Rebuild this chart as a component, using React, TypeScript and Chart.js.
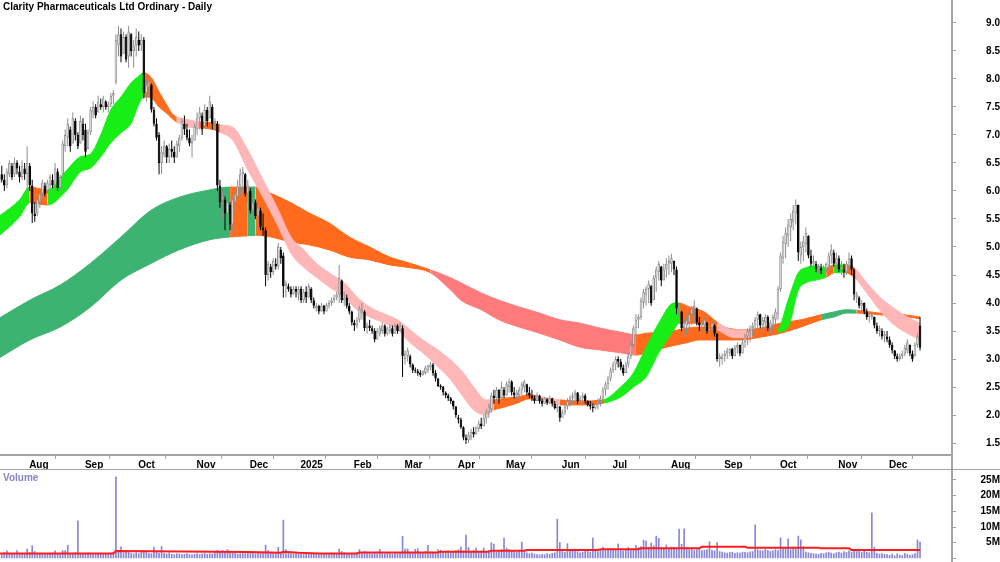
import React, { useEffect, useRef } from "react";
import { Chart, registerables } from "chart.js";

Chart.register(...registerables);

type Bar = [number, number, number, number]; // open, high, low, close

// ---- Daily OHLC by month ----
const jul24: Bar[] = [[6.15,6.35,6.05,6.3],[6.3,6.45,6.15,6.2],[6.2,6.3,6.0,6.1],[6.1,6.4,6.05,6.35],[6.3,6.55,6.25,6.5],[6.45,6.5,6.2,6.25],[6.3,6.6,6.25,6.5],[6.5,6.55,6.3,6.4],[6.35,6.45,6.15,6.25],[6.25,6.55,6.2,6.45],[6.4,6.5,6.2,6.3]];
const aug24: Bar[] = [[6.3,6.8,6.0,6.5],[6.45,6.5,6.0,6.1],[6.1,6.2,5.43,5.6],[5.6,5.8,5.45,5.55],[5.6,5.9,5.55,5.85],[5.8,6.0,5.7,5.95],[5.95,6.2,5.9,6.15],[6.1,6.15,5.9,5.95],[6.0,6.2,5.95,6.15],[6.1,6.3,6.0,6.25],[6.2,6.3,6.05,6.1],[6.1,6.5,6.05,6.4],[6.35,6.4,6.0,6.05],[6.05,6.3,6.0,6.25],[6.3,6.9,6.3,6.85],[6.8,7.1,6.7,7.0],[6.95,7.3,6.8,7.2],[7.1,7.15,6.7,6.8],[6.85,7.4,6.85,7.3],[7.25,7.3,6.9,7.0],[7.0,7.05,6.75,6.8],[6.85,7.35,6.85,7.25]];
const sep24: Bar[] = [[7.2,7.3,6.9,7.0],[7.1,7.2,6.6,6.7],[6.75,7.1,6.75,7.05],[7.05,7.5,7.0,7.45],[7.4,7.6,7.3,7.5],[7.5,7.55,7.3,7.35],[7.4,7.7,7.4,7.6],[7.55,7.65,7.45,7.5],[7.5,7.7,7.4,7.65],[7.6,7.62,7.45,7.5],[7.5,7.6,7.4,7.55],[7.55,7.75,7.5,7.7],[7.7,7.8,7.55,7.75],[7.95,8.8,7.9,8.7],[8.6,8.95,8.4,8.8],[8.8,8.9,8.3,8.4],[8.45,8.85,8.45,8.75],[8.75,8.8,8.3,8.35],[8.4,8.95,8.2,8.85],[8.8,8.82,8.4,8.5],[8.5,8.7,8.2,8.6]];
const oct24: Bar[] = [[8.6,8.9,8.4,8.75],[8.7,8.85,8.5,8.6],[8.6,8.8,8.5,8.7],[8.7,8.75,7.65,7.75],[7.75,8.0,7.6,7.9],[7.85,8.0,7.7,7.95],[7.9,7.92,7.4,7.45],[7.45,7.5,7.15,7.2],[7.2,7.3,6.9,6.95],[7.0,7.05,6.3,6.5],[6.5,6.8,6.3,6.7],[6.65,6.9,6.6,6.8],[6.8,6.82,6.5,6.6],[6.6,6.85,6.5,6.75],[6.75,6.9,6.6,6.7],[6.7,6.8,6.5,6.6],[6.6,6.9,6.6,6.85],[6.8,7.0,6.7,6.95],[6.95,7.3,6.9,7.25],[7.2,7.35,7.0,7.1],[7.1,7.2,6.9,6.95],[6.95,7.1,6.8,6.85],[6.85,7.0,6.6,6.9]];
const nov24: Bar[] = [[6.9,7.2,6.9,7.15],[7.1,7.4,7.0,7.3],[7.3,7.5,7.1,7.4],[7.35,7.4,7.0,7.1],[7.15,7.55,7.15,7.45],[7.45,7.5,7.15,7.25],[7.3,7.7,7.3,7.6],[7.5,7.55,7.1,7.2],[7.2,7.3,7.1,7.25],[7.2,7.25,6.0,6.1],[6.1,6.2,5.7,5.8],[5.85,6.0,5.5,5.9],[5.85,5.9,5.3,5.6],[5.6,5.9,5.5,5.8],[5.75,5.8,5.3,5.4],[5.4,5.9,5.25,5.85],[5.8,6.0,5.6,5.95],[5.9,6.2,5.8,6.1],[6.1,6.4,5.9,6.3],[6.3,6.43,6.0,6.35],[6.3,6.32,5.9,5.95]];
const dec24: Bar[] = [[5.95,6.2,5.8,6.1],[6.0,6.05,5.6,5.65],[5.65,5.9,5.55,5.8],[5.8,5.85,5.5,5.55],[5.55,5.8,5.4,5.7],[5.65,5.7,5.3,5.35],[5.35,5.6,5.2,5.3],[5.3,5.35,4.3,4.5],[4.5,4.75,4.4,4.7],[4.65,4.7,4.45,4.55],[4.55,4.8,4.5,4.75],[4.7,4.8,4.6,4.65],[4.65,5.07,4.6,5.0],[4.95,5.0,4.7,4.8],[4.85,4.9,4.1,4.3],[4.3,4.4,4.1,4.35],[4.3,4.35,4.2,4.25],[4.25,4.3,4.1,4.15],[4.15,4.3,4.15,4.25],[4.25,4.3,4.1,4.2]];
const jan25: Bar[] = [[4.15,4.3,4.05,4.25],[4.25,4.3,4.0,4.05],[4.05,4.25,4.0,4.2],[4.2,4.3,4.0,4.1],[4.1,4.35,4.1,4.3],[4.25,4.28,4.0,4.05],[4.05,4.1,3.9,3.95],[3.9,4.0,3.85,3.95],[3.95,3.97,3.8,3.85],[3.85,4.0,3.85,3.95],[3.95,3.97,3.8,3.85],[3.85,4.0,3.85,3.97],[3.95,4.05,3.9,4.0],[4.0,4.1,3.95,4.05],[4.05,4.15,4.0,4.1],[4.1,4.2,4.05,4.15],[4.15,4.68,4.0,4.45],[4.4,4.42,4.0,4.05],[4.05,4.2,3.95,4.1],[4.1,4.15,3.9,3.95],[3.95,4.0,3.8,3.85]];
const feb25: Bar[] = [[3.85,3.86,3.6,3.65],[3.65,3.7,3.5,3.6],[3.6,3.75,3.55,3.7],[3.7,3.95,3.65,3.9],[3.85,4.0,3.7,3.9],[3.85,3.87,3.5,3.55],[3.55,3.65,3.45,3.6],[3.6,3.7,3.5,3.55],[3.55,3.6,3.45,3.5],[3.5,3.55,3.3,3.35],[3.35,3.55,3.35,3.5],[3.45,3.6,3.4,3.55],[3.5,3.65,3.45,3.6],[3.6,3.62,3.4,3.45],[3.45,3.58,3.42,3.55],[3.5,3.62,3.45,3.58],[3.55,3.6,3.4,3.45],[3.45,3.63,3.45,3.6],[3.6,3.62,3.45,3.5],[3.5,3.65,3.5,3.6]];
const mar25: Bar[] = [[3.55,3.6,2.68,3.05],[3.0,3.15,2.9,3.1],[3.05,3.2,2.95,3.15],[3.05,3.08,2.85,2.9],[2.9,2.92,2.75,2.8],[2.8,2.85,2.75,2.78],[2.78,2.82,2.7,2.75],[2.75,2.8,2.68,2.72],[2.72,2.8,2.7,2.78],[2.75,2.88,2.72,2.85],[2.8,2.9,2.75,2.88],[2.85,2.95,2.8,2.9],[2.9,2.93,2.7,2.75],[2.75,2.8,2.6,2.65],[2.65,2.66,2.5,2.52],[2.52,2.55,2.45,2.5],[2.5,2.52,2.35,2.4],[2.4,2.42,2.3,2.35],[2.35,2.38,2.25,2.3],[2.3,2.32,2.2,2.25],[2.25,2.26,2.1,2.15]];
const apr25: Bar[] = [[2.15,2.16,1.95,2.0],[1.95,2.0,1.85,1.92],[1.92,1.95,1.75,1.78],[1.78,1.8,1.55,1.6],[1.6,1.65,1.48,1.55],[1.55,1.7,1.5,1.65],[1.6,1.75,1.55,1.7],[1.7,1.78,1.6,1.65],[1.65,1.8,1.65,1.78],[1.75,1.9,1.7,1.85],[1.85,1.95,1.75,1.8],[1.8,2.0,1.8,1.95],[1.95,2.1,1.85,2.05],[2.05,2.2,1.95,2.15],[2.1,2.4,2.05,2.35],[2.35,2.45,2.2,2.3],[2.3,2.5,2.25,2.45],[2.45,2.46,2.2,2.3],[2.3,2.6,2.3,2.5]];
const may25: Bar[] = [[2.45,2.5,2.3,2.35],[2.35,2.6,2.35,2.55],[2.5,2.65,2.4,2.6],[2.6,2.62,2.35,2.4],[2.4,2.5,2.3,2.35],[2.35,2.45,2.25,2.4],[2.35,2.5,2.3,2.45],[2.45,2.6,2.35,2.55],[2.5,2.63,2.4,2.6],[2.55,2.56,2.35,2.4],[2.4,2.5,2.3,2.35],[2.35,2.45,2.25,2.3],[2.3,2.35,2.2,2.25],[2.25,2.4,2.25,2.35],[2.35,2.36,2.2,2.25],[2.25,2.3,2.15,2.2],[2.2,2.32,2.2,2.3],[2.28,2.3,2.18,2.22],[2.22,2.35,2.2,2.3],[2.3,2.31,2.15,2.2],[2.2,2.25,2.1,2.12],[2.12,2.2,2.05,2.15]];
const jun25: Bar[] = [[2.15,2.16,1.88,1.95],[1.95,2.1,1.95,2.05],[2.05,2.2,2.0,2.15],[2.15,2.3,2.1,2.25],[2.25,2.35,2.15,2.3],[2.3,2.4,2.2,2.35],[2.35,2.45,2.25,2.4],[2.4,2.41,2.2,2.25],[2.25,2.35,2.2,2.3],[2.3,2.4,2.25,2.35],[2.35,2.38,2.2,2.25],[2.25,2.26,2.15,2.18],[2.18,2.25,2.1,2.15],[2.15,2.2,2.05,2.12],[2.12,2.25,2.1,2.2],[2.2,2.3,2.1,2.25],[2.25,2.35,2.15,2.3],[2.3,2.5,2.25,2.45],[2.45,2.6,2.35,2.55],[2.55,2.7,2.45,2.65]];
const jul25: Bar[] = [[2.65,2.85,2.6,2.8],[2.8,2.95,2.75,2.9],[2.9,3.05,2.8,3.0],[3.0,3.05,2.85,2.95],[2.95,3.0,2.8,2.85],[2.85,2.9,2.7,2.75],[2.75,2.95,2.75,2.9],[2.9,3.1,2.85,3.05],[3.05,3.3,3.0,3.25],[3.25,3.6,3.2,3.55],[3.55,3.8,3.4,3.7],[3.7,3.8,3.55,3.75],[3.75,4.1,3.7,4.05],[4.0,4.25,3.9,4.2],[4.15,4.3,3.95,4.25],[4.25,4.4,4.0,4.35],[4.3,4.32,3.95,4.0],[4.05,4.5,4.05,4.45],[4.45,4.65,4.2,4.6],[4.55,4.75,4.4,4.7],[4.65,4.66,4.3,4.4],[4.4,4.7,4.4,4.6],[4.6,4.8,4.45,4.7]];
const aug25: Bar[] = [[4.7,4.85,4.5,4.75],[4.7,4.88,4.55,4.8],[4.75,4.76,4.5,4.6],[4.6,4.65,3.8,3.9],[3.9,4.0,3.75,3.95],[3.85,3.86,3.5,3.55],[3.55,3.7,3.4,3.6],[3.6,3.75,3.45,3.7],[3.65,3.85,3.5,3.8],[3.8,3.95,3.6,3.9],[3.9,4.05,3.65,3.95],[3.9,3.92,3.6,3.65],[3.65,3.75,3.5,3.6],[3.6,3.7,3.45,3.65],[3.6,3.75,3.5,3.7],[3.65,3.66,3.45,3.5],[3.5,3.6,3.4,3.55],[3.55,3.7,3.45,3.65],[3.6,3.62,3.4,3.45],[3.45,3.46,2.95,3.0],[3.0,3.1,2.86,3.05]];
const sep25: Bar[] = [[3.0,3.1,2.9,3.05],[3.05,3.15,2.95,3.1],[3.1,3.2,3.0,3.15],[3.1,3.2,3.05,3.18],[3.18,3.2,3.0,3.05],[3.05,3.25,3.05,3.2],[3.2,3.3,3.1,3.25],[3.25,3.26,3.05,3.1],[3.1,3.35,3.1,3.3],[3.3,3.45,3.2,3.4],[3.4,3.55,3.25,3.5],[3.5,3.6,3.3,3.55],[3.55,3.65,3.4,3.6],[3.6,3.75,3.45,3.7],[3.7,3.85,3.55,3.8],[3.8,3.81,3.55,3.6],[3.6,3.75,3.5,3.7],[3.65,3.8,3.55,3.75],[3.75,3.78,3.5,3.55],[3.55,3.7,3.45,3.65],[3.6,3.8,3.5,3.75],[3.7,3.9,3.55,3.85]];
const oct25: Bar[] = [[3.8,4.3,3.7,4.25],[4.25,4.9,4.2,4.85],[4.8,5.2,4.7,5.1],[5.05,5.35,4.8,5.25],[5.2,5.5,5.0,5.4],[5.35,5.6,5.1,5.5],[5.45,5.75,5.3,5.65],[5.6,5.85,5.4,5.75],[5.75,5.76,4.75,4.9],[4.85,5.1,4.7,5.0],[5.0,5.2,4.75,5.1],[5.05,5.35,4.9,5.25],[5.2,5.21,4.8,4.85],[4.85,4.95,4.65,4.7],[4.7,4.85,4.6,4.75],[4.7,4.75,4.55,4.6],[4.6,4.7,4.5,4.65],[4.62,4.7,4.52,4.58],[4.58,4.68,4.5,4.62],[4.6,4.72,4.55,4.7],[4.65,4.9,4.6,4.85],[4.85,5.05,4.7,4.95],[4.9,4.95,4.65,4.7]];
const nov25: Bar[] = [[4.7,4.9,4.6,4.8],[4.8,4.85,4.55,4.6],[4.6,4.75,4.5,4.65],[4.6,4.7,4.45,4.55],[4.55,4.75,4.5,4.7],[4.65,4.9,4.55,4.8],[4.8,4.85,4.5,4.6],[4.6,4.62,4.05,4.15],[4.1,4.2,4.0,4.15],[4.1,4.12,3.9,3.95],[3.95,4.05,3.85,4.0],[4.0,4.01,3.8,3.85],[3.85,3.9,3.7,3.75],[3.75,3.85,3.65,3.8],[3.75,3.85,3.7,3.78],[3.75,3.76,3.55,3.6],[3.6,3.65,3.45,3.5],[3.5,3.6,3.4,3.55],[3.5,3.55,3.35,3.4],[3.4,3.5,3.3,3.45]];
const dec25: Bar[] = [[3.4,3.5,3.3,3.35],[3.35,3.4,3.2,3.25],[3.25,3.3,3.1,3.15],[3.15,3.16,3.0,3.05],[3.05,3.1,2.95,3.0],[3.0,3.1,2.97,3.05],[3.05,3.15,3.0,3.1],[3.1,3.25,3.05,3.2],[3.15,3.35,3.1,3.3],[3.25,3.26,3.05,3.1],[3.1,3.15,2.95,3.0],[3.05,3.3,3.05,3.25],[3.25,3.45,3.2,3.4],[3.6,3.75,3.15,3.2]];

const monthBars: Bar[][] = [jul24, aug24, sep24, oct24, nov24, dec24, jan25, feb25, mar25, apr25, may25, jun25, jul25, aug25, sep25, oct25, nov25, dec25];
const monthLabels = ["", "Aug", "Sep", "Oct", "Nov", "Dec", "2025", "Feb", "Mar", "Apr", "May", "Jun", "Jul", "Aug", "Sep", "Oct", "Nov", "Dec"];

// ---- Daily volume (millions) by month ----
const vJul24 = [1.5,1.2,1.8,2.4,1.3,1.6,1.4,2.5,1.5,1.2,1.6];
const vAug24 = [3.0,1.8,4.0,2.2,1.5,1.3,1.6,1.2,1.4,1.5,1.7,2.4,1.5,1.3,2.5,2.5,4.2,1.6,1.4,1.8,12.0,1.6];
const vSep24 = [1.5,1.3,1.8,1.4,1.2,1.6,1.3,1.5,1.2,1.4,1.3,1.7,1.9,26.0,2.2,3.7,1.8,2.5,1.9,1.6,1.4];
const vOct24 = [1.8,1.5,2.0,2.6,1.9,1.6,1.5,3.6,2.0,1.7,3.8,1.6,1.4,1.8,1.3,1.2,1.5,1.4,1.2,1.3,1.5,1.2,1.1];
const vNov24 = [1.3,1.5,1.2,1.4,1.6,1.3,1.5,1.4,1.8,2.6,2.2,2.5,2.0,2.8,1.9,1.7,1.6,1.4,1.5,1.8,1.5];
const vDec24 = [1.6,2.0,1.8,1.5,1.7,1.6,1.9,4.2,2.5,1.8,1.6,1.5,3.5,2.0,12.2,2.8,1.8,1.5,1.4,1.6];
const vJan25 = [1.3,1.5,1.2,1.4,1.6,1.3,1.5,1.4,1.2,1.6,1.3,1.5,1.4,1.7,1.5,1.6,3.0,2.2,1.8,1.5,1.4];
const vFeb25 = [1.6,1.5,1.8,2.8,1.7,2.2,1.5,1.6,1.4,1.8,1.5,2.9,1.6,1.4,1.7,1.5,1.3,1.6,1.5,1.7];
const vMar25 = [7.0,3.0,3.0,2.0,1.8,2.9,3.1,1.9,1.8,2.2,4.2,2.0,1.7,1.8,2.8,2.6,1.9,2.0,2.4,2.2,2.1];
const vApr25 = [2.5,2.8,3.7,2.4,7.4,3.5,2.2,2.6,3.3,2.0,2.4,3.3,2.2,2.6,5.0,4.6,2.0,2.4,2.8];
const vMay25 = [6.5,3.3,2.8,2.2,2.5,2.0,2.4,5.2,2.6,1.8,1.5,1.7,1.4,1.2,1.1,1.3,1.2,1.5,1.3,1.6,1.8,12.5];
const vJun25 = [5.0,2.2,2.0,4.7,2.5,2.8,3.0,2.2,1.8,2.0,2.4,2.2,2.0,6.5,2.5,2.2,2.8,3.5,2.6,3.0];
const vJul25 = [3.2,2.8,2.6,4.6,3.0,2.4,2.8,3.5,2.6,3.0,4.2,3.5,3.8,5.8,5.5,3.6,4.9,4.0,7.1,6.4,3.5,3.0,4.3];
const vAug25 = [3.0,3.6,3.5,3.0,9.3,4.5,9.4,3.6,2.8,3.2,2.6,2.8,3.0,2.5,2.6,2.8,5.3,2.6,2.4,5.0,2.2];
const vSep25 = [2.0,1.8,1.7,1.9,2.0,1.6,1.8,1.7,2.0,1.9,1.8,2.1,2.2,10.6,2.8,2.5,2.4,2.9,2.6,2.2,2.4,2.8];
const vOct25 = [2.5,6.5,3.0,3.4,6.2,2.8,3.6,3.0,7.1,5.9,3.7,2.0,1.8,1.6,1.5,1.4,1.3,1.6,1.5,1.8,2.0,1.7,1.5];
const vNov25 = [1.8,2.0,1.7,2.2,1.9,2.4,2.0,2.8,2.2,2.5,1.9,2.3,2.0,1.8,14.5,3.6,1.6,1.4,1.5,1.3];
const vDec25 = [1.2,1.0,1.4,0.8,1.5,1.1,0.9,1.6,1.3,1.0,1.2,1.5,5.9,5.2];
const monthVols = [vJul24, vAug24, vSep24, vOct24, vNov24, vDec24, vJan25, vFeb25, vMar25, vApr25, vMay25, vJun25, vJul25, vAug25, vSep25, vOct25, vNov25, vDec25];

// ---- Volume moving average (millions), at bar index ----
const maIdx = [0,45,46,60,72,98,111,112,118,126,141,142,173,174,193,194,207,208,236,237,252,253,276,277,294,295,323,324,335,336,363];
const maVal = [1.6,1.6,2.35,2.3,2.2,2.0,1.8,2.1,1.8,1.6,1.6,1.9,1.9,2.1,2.1,2.45,2.45,2.7,2.7,2.9,2.9,3.2,3.2,3.7,3.7,3.4,3.4,3.2,3.2,2.7,2.7];

// ---- Short-term ribbon (fast averages): upper / lower edge at bar index ----
const shortIdx = [0,8,12,19,26,32,36,40,44,48,52,55,57,60,63,66,68,70,75,79,85,87,92,98,104,110,115,120,125,130,136,141,146,151,157,162,167,173,178,183,187,192,195,199,204,209,212,221,229,238,245,250,255,260,266,268,272,278,283,290,297,304,307,311,315,318,322,326,329,333,337,342,347,352,358,363];
const shortHi = [5.55,5.84,6.07,6.02,6.34,6.61,6.66,7.0,7.45,7.68,7.93,8.05,8.11,8.02,7.77,7.54,7.39,7.32,7.27,7.23,7.21,7.18,7.14,6.73,6.2,5.66,5.18,4.95,4.71,4.54,4.36,4.11,3.93,3.82,3.70,3.52,3.34,3.16,2.98,2.75,2.50,2.27,2.27,2.30,2.32,2.36,2.34,2.27,2.25,2.27,2.50,2.75,3.21,3.64,4.0,4.0,3.93,3.84,3.66,3.52,3.52,3.52,3.54,4.05,4.54,4.63,4.66,4.63,4.68,4.68,4.63,4.36,4.11,3.93,3.75,3.64];
const shortLo = [5.2,5.54,5.79,5.75,5.98,6.34,6.41,6.61,6.86,7.04,7.21,7.55,7.68,7.66,7.50,7.39,7.30,7.23,7.14,7.13,7.09,7.05,6.91,6.38,5.89,5.36,4.89,4.64,4.46,4.29,4.11,3.88,3.75,3.66,3.52,3.29,3.11,2.86,2.63,2.32,2.09,2.0,2.09,2.14,2.21,2.29,2.27,2.18,2.18,2.21,2.32,2.50,2.68,3.11,3.52,3.64,3.64,3.61,3.52,3.38,3.39,3.45,3.48,3.57,4.23,4.36,4.41,4.46,4.54,4.55,4.46,4.18,3.88,3.64,3.46,3.34];
const shortState = "GGOGGGGGGGGGOOOOOPPOOPPPPPPPPPPPPPPPPPPPPPOOOOPOOGGGGGGOOOPPOOGGGGGOGOPPPPPP".split("");

// ---- Long-term ribbon (slow averages) ----
const longIdx = [0,12,24,36,48,60,71,83,91,98,101,107,115,122,130,138,146,154,162,170,178,182,190,197,205,213,221,229,237,245,251,255,263,271,276,284,292,300,308,316,324,329,334,338,347,355,363];
const longHi = [3.73,4.05,4.32,4.71,5.18,5.66,5.89,6.02,6.07,6.07,6.07,5.96,5.79,5.61,5.43,5.18,5.00,4.82,4.71,4.59,4.45,4.36,4.18,4.05,3.93,3.82,3.70,3.64,3.55,3.48,3.43,3.46,3.48,3.55,3.57,3.57,3.52,3.55,3.64,3.70,3.79,3.84,3.88,3.87,3.82,3.80,3.75];
const longLo = [3.02,3.34,3.57,3.93,4.41,4.71,4.95,5.13,5.18,5.20,5.21,5.18,5.09,5.04,4.95,4.82,4.77,4.68,4.63,4.54,4.23,4.05,3.88,3.70,3.57,3.46,3.34,3.21,3.16,3.11,3.07,3.11,3.21,3.29,3.34,3.34,3.34,3.39,3.46,3.57,3.70,3.75,3.82,3.82,3.79,3.77,3.72];
const longState = "DDDDDDDDODOOOOOOOOOSSSSSSSSSSSOOOOOOOOOODDDOOOO".split("");

const priceTicks = [1.5,2.0,2.5,3.0,3.5,4.0,4.5,5.0,5.5,6.0,6.5,7.0,7.5,8.0,8.5,9.0];
const volTicks = [0,5,10,15,20,25];

const PALETTE: Record<string, string> = {
  G: "#16ee16",
  O: "#ff6a1c",
  P: "#ffb6b6",
  D: "#3cb371",
  S: "#ff7b7b",
};
const FONT = "'Liberation Sans', Arial, Helvetica, sans-serif";
const AXIS = "#a3a3a3";
const UP = "#8e8e8e";
const X_MIN = 0.3;
const X_MAX = 375.6;

const bars: Bar[] = monthBars.flat();
const vols: number[] = monthVols.flat();
const monthStart: number[] = [];
{
  let acc = 0;
  monthBars.forEach((m) => {
    monthStart.push(acc);
    acc += m.length;
  });
}
const tickIdx = monthStart.slice(1);
const tickLbl = monthLabels.slice(1);

function ribbon(idx: number[], hi: number[], lo: number[], state: string[], order: number) {
  const col = (c: any) => PALETTE[state[c.p0DataIndex]];
  const common = {
    type: "line" as const,
    pointRadius: 0,
    borderWidth: 1,
    cubicInterpolationMode: "monotone" as const,
    order,
    segment: { borderColor: col, backgroundColor: col },
  };
  return [
    { ...common, data: idx.map((x, k) => ({ x, y: hi[k] })), fill: "+1", backgroundColor: PALETTE[state[0]], borderColor: PALETTE[state[0]] },
    { ...common, data: idx.map((x, k) => ({ x, y: lo[k] })), fill: false, backgroundColor: PALETTE[state[0]], borderColor: PALETTE[state[0]] },
  ];
}

export default function App() {
  const priceRef = useRef<HTMLCanvasElement>(null);
  const volRef = useRef<HTMLCanvasElement>(null);

  useEffect(() => {
    const isUp = bars.map((b) => b[3] >= b[0]);
    const priceChart = new Chart(priceRef.current as HTMLCanvasElement, {
      type: "bar",
      data: {
        datasets: [
          {
            type: "bar",
            data: bars.map((b, i) => ({ x: i, y: [b[0], b[3]] })) as any,
            backgroundColor: isUp.map((u) => (u ? "#ffffff" : "#000000")),
            borderColor: isUp.map((u) => (u ? UP : "#000000")),
            borderWidth: 1,
            borderSkipped: false,
            inflateAmount: 0,
            barThickness: 2.6,
            grouped: false,
            order: 1,
          } as any,
          {
            type: "bar",
            data: bars.map((b, i) => ({ x: i, y: [b[2], b[1]] })) as any,
            backgroundColor: isUp.map((u) => (u ? UP : "#000000")),
            borderWidth: 0,
            inflateAmount: 0,
            barThickness: 1,
            grouped: false,
            order: 2,
          } as any,
          ...(ribbon(shortIdx, shortHi, shortLo, shortState, 3) as any[]),
          ...(ribbon(longIdx, longHi, longLo, longState, 4) as any[]),
        ],
      },
      options: {
        animation: false,
        responsive: false,
        maintainAspectRatio: false,
        devicePixelRatio: 1,
        events: [],
        layout: { padding: 0 },
        plugins: { legend: { display: false }, title: { display: false }, tooltip: { enabled: false } },
        scales: {
          x: {
            type: "linear",
            min: X_MIN,
            max: X_MAX,
            offset: false,
            position: "bottom",
            afterBuildTicks: (s: any) => {
              s.ticks = tickIdx.map((v) => ({ value: v }));
            },
            afterFit: (s: any) => {
              s.height = 15;
              s.paddingLeft = 0;
              s.paddingRight = 0;
            },
            ticks: {
              autoSkip: false,
              maxRotation: 0,
              minRotation: 0,
              align: "start",
              labelOffset: 2,
              padding: 0,
              color: "#000",
              font: { family: FONT, size: 10, weight: "bold" },
              callback: (_v: any, i: number) => tickLbl[i],
            },
            grid: { drawOnChartArea: false, drawTicks: true, tickLength: 4, color: AXIS },
            border: { display: true, color: AXIS, width: 2 },
          } as any,
          y: {
            type: "linear",
            position: "right",
            min: 9.0 - 432 / 56,
            max: 9.0 + 23 / 56,
            afterBuildTicks: (s: any) => {
              s.ticks = priceTicks.map((v) => ({ value: v }));
            },
            afterFit: (s: any) => {
              s.width = 48;
              s.paddingTop = 0;
              s.paddingBottom = 0;
            },
            ticks: {
              crossAlign: "far",
              padding: 27,
              color: "#000",
              font: { family: FONT, size: 10, weight: "bold" },
              callback: (v: any) => Number(v).toFixed(1),
            },
            grid: { drawOnChartArea: false, drawTicks: true, tickLength: 4, color: AXIS },
            border: { display: true, color: AXIS, width: 2 },
          } as any,
        },
      },
    });

    const volChart = new Chart(volRef.current as HTMLCanvasElement, {
      type: "bar",
      data: {
        datasets: [
          {
            type: "line",
            data: maIdx.map((x, k) => ({ x, y: maVal[k] })),
            borderColor: "#ff1c1c",
            borderWidth: 2,
            pointRadius: 0,
            tension: 0,
            order: 1,
          } as any,
          {
            type: "bar",
            data: vols.map((v, i) => ({ x: i, y: v })),
            backgroundColor: "#8787d8",
            barThickness: 1,
            grouped: false,
            order: 2,
          } as any,
        ],
      },
      options: {
        animation: false,
        responsive: false,
        maintainAspectRatio: false,
        devicePixelRatio: 1,
        events: [],
        layout: { padding: 0 },
        plugins: { legend: { display: false }, title: { display: false }, tooltip: { enabled: false } },
        scales: {
          x: { type: "linear", min: X_MIN, max: X_MAX, offset: false, display: false } as any,
          y: {
            type: "linear",
            position: "right",
            min: -3.6 / 3.14,
            max: 88.4 / 3.14,
            afterBuildTicks: (s: any) => {
              s.ticks = volTicks.map((v) => ({ value: v }));
            },
            afterFit: (s: any) => {
              s.width = 48;
              s.paddingTop = 0;
              s.paddingBottom = 0;
            },
            ticks: {
              crossAlign: "far",
              padding: 21,
              color: "#000",
              font: { family: FONT, size: 10, weight: "bold" },
              callback: (v: any) => (Number(v) === 0 ? "" : `${v}M`),
            },
            grid: { drawOnChartArea: false, drawTicks: true, tickLength: 4, color: AXIS },
            border: { display: true, color: AXIS, width: 2 },
          } as any,
        },
      },
    });

    return () => {
      priceChart.destroy();
      volChart.destroy();
    };
  }, []);

  return (
    <div style={{ position: "absolute", left: 0, top: 0, width: 1000, height: 562, background: "#fff", overflow: "hidden" }}>
      <canvas ref={priceRef} width={1000} height={470} style={{ position: "absolute", left: 0, top: 0, width: 1000, height: 470 }} />
      <canvas ref={volRef} width={1000} height={92} style={{ position: "absolute", left: 0, top: 470, width: 1000, height: 92 }} />
      <div style={{ position: "absolute", left: 0, top: 469, width: 1000, height: 1, background: AXIS }} />
      <div style={{ position: "absolute", left: 951, top: 455, width: 2, height: 15, background: AXIS }} />
      <div style={{ position: "absolute", left: 3, top: 1, font: `bold 10px ${FONT}`, lineHeight: "12px", color: "#000", whiteSpace: "nowrap" }}>
        Clarity Pharmaceuticals Ltd Ordinary - Daily
      </div>
      <div style={{ position: "absolute", left: 3, top: 472, font: `bold 10px ${FONT}`, lineHeight: "12px", color: "#8585c6", whiteSpace: "nowrap" }}>
        Volume
      </div>
    </div>
  );
}
